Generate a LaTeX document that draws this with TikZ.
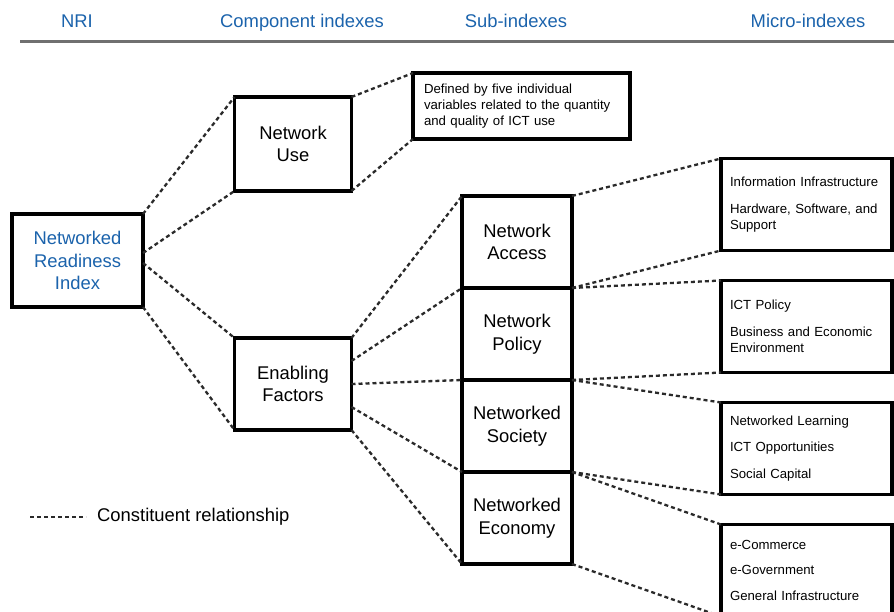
\documentclass[tikz,border=0pt]{standalone}
\usepackage{fontspec}
\setmainfont{Liberation Sans}
\usepackage{xcolor}
\usepackage{tikz}
\usetikzlibrary{positioning, calc}
\definecolor{nriblue}{HTML}{1B63AC}
\definecolor{rulegray}{HTML}{707070}
\definecolor{dotgray}{HTML}{2A2A2A}

\tikzset{
  bigtext/.style={font=\fontsize{18.4}{22.5}\selectfont},
  smalltext/.style={font=\fontsize{13.2}{16}\selectfont},
  heading/.style={bigtext, text=nriblue, anchor=base},
  box/.style={draw, line width=3.4pt, fill=white, align=center, inner sep=0pt, outer sep=0pt},
  subbox/.style={box, bigtext, minimum width=110pt, minimum height=92pt},
  microbox/.style={box, smalltext, align=left, text width=153pt, inner xsep=9pt, minimum height=92pt},
  link/.style={draw=dotgray, line width=2.3pt, dash pattern=on 4pt off 3pt},
}

\begin{document}
\begin{tikzpicture}[x=1pt, y=-1pt]
    \useasboundingbox (0,0) rectangle (894,612);
    % column heads
    \node[heading] (hnri) at (77,28) {NRI};
    \node[heading] (hcomp) at (302,28) {Component indexes};
    \node[heading] (hsub) at (516,28) {Sub-indexes};
    \node[heading] (hmicro) at (808,28) {Micro-indexes};
    \draw[rulegray, line width=3pt] (20,42) -- (894,42);

    \node[box, bigtext, text=nriblue, minimum width=131pt, minimum height=93pt]
      (nri) at (77.5,260.5) {Networked\\Readiness\\Index};
    \node[box, bigtext, minimum width=117pt, minimum height=94pt] (use) at (293,144) {Network\\Use};
    \node[box, bigtext, minimum width=117pt, minimum height=92pt] (enab) at (293,384) {Enabling\\Factors};
    \node[box, smalltext, align=left, text width=195pt, inner xsep=11pt, minimum height=66pt]
      (defd) at (521.5,106) {Defined by five individual\\variables related to the quantity\\and quality of ICT use};

    \node[subbox] (acc) at (517,242) {Network\\Access};
    \node[subbox, below=0pt of acc] (pol) {Network\\Policy};
    \node[subbox, below=0pt of pol] (soc) {Networked\\Society};
    \node[subbox, below=0pt of soc] (eco) {Networked\\Economy};

    \node[microbox] (m1) at (806.5,204.5) {Information Infrastructure\\[10.5pt]Hardware, Software, and\\Support};
    \node[microbox, below=30pt of m1] (m2) {ICT Policy\\[10.5pt]Business and Economic\\Environment};
    \node[microbox, below=30pt of m2] (m3) {Networked Learning\\[10.5pt]ICT Opportunities\\[10.5pt]Social Capital};
    \node[microbox, below=30pt of m3] (m4) {e-Commerce\\[9pt]e-Government\\[10.5pt]General Infrastructure};

    % constituent links
    \draw[link] (nri.north east) -- (use.north west);
    \draw[link] ([yshift=7.5pt]nri.east) -- (use.south west);
    \draw[link] ([yshift=-2.5pt]nri.east) -- (enab.north west);
    \draw[link] (nri.south east) -- (enab.south west);
    \draw[link] (use.north east) -- (defd.north west);
    \draw[link] (use.south east) -- (defd.south west);
    \foreach \t [count=\i from 0] in {acc.north west, pol.north west, soc.north west, eco.north west, eco.south west}
      \draw[link] ($(enab.north east)!\i/4!(enab.south east)$) -- (\t);
    \foreach \s/\m in {acc/m1, pol/m2, soc/m3, eco/m4} {
      \draw[link] (\s.north east) -- (\m.north west);
      \draw[link] (\s.south east) -- (\m.south west);
    }

    % legend
    \coordinate (legstart) at (30,517);
    \node[bigtext, anchor=west, inner xsep=11pt] (legend) at (86,517) {Constituent relationship};
    \draw[link] (legstart) -- (legend.west);
\end{tikzpicture}
\end{document}
